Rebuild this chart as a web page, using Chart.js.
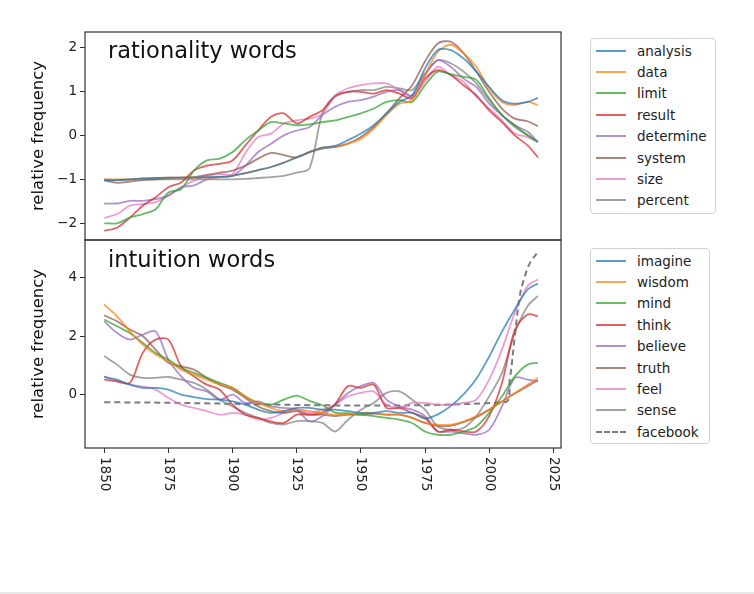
<!DOCTYPE html>
<html><head><meta charset="utf-8">
<script src="https://cdn.jsdelivr.net/npm/chart.js@4.4.1/dist/chart.umd.min.js"></script>
<style>
html,body{margin:0;padding:0;background:#fff;}
#wrap{position:relative;width:754px;height:594px;overflow:hidden;background:#fff;}
#c{position:absolute;left:0;top:0;}
.legend{position:absolute;box-sizing:border-box;border:1px solid #d0d0d0;border-radius:4px;background:#fff;font-family:'DejaVu Sans',sans-serif;font-size:13.5px;color:#222;padding:1px 4px 0 5px;}
.item{display:flex;align-items:center;height:21.4px;white-space:nowrap;}
.sw{width:30px;height:0;border-top:2px solid;margin-right:11px;flex:none;}
#strip{position:absolute;left:0;top:592px;width:754px;height:2px;background:#e8e8e8;}
</style></head>
<body><div id="wrap"><canvas id="c" width="754" height="594"></canvas>
<div id="leg1" class="legend" style="left:590px;top:38px;width:126px;height:176px;"></div>
<div id="leg2" class="legend" style="left:590px;top:248px;width:120px;height:196px;"></div>
<div id="strip"></div></div>
<script>
// ---------- data ----------
const years = [1850,1855,1860,1865,1870,1875,1880,1885,1890,1895,1900,1905,1910,1915,1920,1925,1930,1935,1940,1945,1950,1955,1960,1965,1970,1975,1980,1985,1990,1995,2000,2005,2010,2015,2019];
const xTicks = [1850,1875,1900,1925,1950,1975,2000,2025];
const panelTitles = ['rationality words','intuition words'];
const yLabel = 'relative frequency';

// rationality words
const analysis  = [-1.03,-1.02,-1.0,-0.98,-0.97,-0.96,-0.96,-0.96,-0.95,-0.94,-0.92,-0.86,-0.79,-0.72,-0.62,-0.5,-0.38,-0.28,-0.24,-0.11,0.04,0.23,0.5,0.76,0.91,1.52,1.94,1.94,1.75,1.45,1.1,0.8,0.72,0.76,0.85];
const dataW     = [-1.0,-1.0,-1.0,-0.98,-0.97,-0.96,-0.96,-0.96,-0.96,-0.95,-0.92,-0.86,-0.79,-0.72,-0.62,-0.5,-0.38,-0.28,-0.25,-0.19,-0.08,0.15,0.46,0.72,0.8,1.37,1.9,2.06,1.87,1.56,1.07,0.76,0.69,0.76,0.69];
const limit     = [-2.0,-2.0,-1.87,-1.79,-1.68,-1.3,-1.22,-0.8,-0.57,-0.53,-0.38,-0.11,0.11,0.3,0.27,0.23,0.25,0.3,0.34,0.42,0.5,0.61,0.76,0.8,0.76,1.14,1.45,1.39,1.33,1.26,0.84,0.46,0.23,0.0,-0.15];
const result    = [-2.17,-2.1,-1.87,-1.6,-1.41,-1.18,-1.07,-0.8,-0.69,-0.65,-0.57,-0.23,0.11,0.42,0.5,0.27,0.42,0.57,0.88,0.99,0.99,0.95,1.03,0.95,0.84,1.29,1.48,1.37,1.14,0.91,0.57,0.3,0.0,-0.23,-0.5];
const determine = [-1.55,-1.55,-1.49,-1.49,-1.45,-1.37,-1.18,-1.14,-1.0,-0.95,-0.92,-0.69,-0.38,-0.19,0.0,0.11,0.19,0.46,0.65,0.76,0.8,0.88,0.99,1.03,0.91,1.37,1.71,1.56,1.29,1.1,0.72,0.46,0.23,0.08,-0.15];
const system    = [-1.02,-1.08,-1.05,-1.02,-1.0,-0.98,-0.96,-0.95,-0.9,-0.85,-0.8,-0.69,-0.53,-0.4,-0.45,-0.5,-0.38,-0.3,-0.27,-0.19,-0.04,0.19,0.5,0.84,1.14,1.68,2.09,2.13,1.87,1.45,0.99,0.61,0.38,0.32,0.21];
const size      = [-1.88,-1.79,-1.6,-1.56,-1.52,-1.37,-1.18,-1.03,-0.92,-0.88,-0.88,-0.4,-0.04,0.04,0.27,0.34,0.38,0.49,0.91,1.07,1.14,1.18,1.18,1.03,0.88,1.22,1.56,1.37,1.22,0.88,0.61,0.34,0.04,-0.04,-0.15];
const percent   = [-1.0,-1.02,-1.0,-1.0,-1.0,-1.0,-1.0,-1.0,-1.0,-1.0,-1.0,-0.99,-0.97,-0.95,-0.92,-0.85,-0.75,0.5,0.91,0.99,1.03,1.03,1.1,1.07,1.03,1.41,1.71,1.64,1.45,1.18,0.8,0.46,0.19,0.0,-0.15];

// intuition words
const imagine = [0.61,0.52,0.35,0.24,0.24,0.18,0.01,-0.07,-0.14,-0.16,-0.22,-0.33,-0.5,-0.61,-0.55,-0.44,-0.44,-0.5,-0.5,-0.55,-0.61,-0.61,-0.55,-0.61,-0.61,-0.8,-0.66,-0.38,0.02,0.55,1.3,2.15,2.9,3.58,3.78];
const wisdom  = [3.07,2.67,2.16,1.71,1.37,1.14,0.86,0.69,0.52,0.35,0.24,-0.05,-0.27,-0.44,-0.55,-0.5,-0.55,-0.61,-0.67,-0.67,-0.61,-0.61,-0.67,-0.67,-0.78,-0.95,-1.01,-1.01,-0.9,-0.72,-0.5,-0.22,0.07,0.35,0.58];
const mind    = [2.56,2.33,2.1,1.77,1.43,1.2,0.92,0.75,0.58,0.41,0.24,-0.05,-0.27,-0.33,-0.16,-0.02,-0.2,-0.35,-0.6,-0.62,-0.67,-0.72,-0.78,-0.84,-0.95,-1.24,-1.35,-1.35,-1.24,-1.07,-0.61,-0.05,0.63,1.03,1.09];
const think   = [0.52,0.46,0.41,1.43,1.88,1.88,0.97,0.63,0.35,0.18,-0.33,-0.67,-0.78,-0.9,-0.95,-0.67,-0.67,-0.6,-0.3,0.3,0.24,0.35,-0.44,-0.44,-0.61,-0.78,-1.24,-1.18,-1.24,-1.24,-0.72,0.41,2.2,2.73,2.67];
const believe = [2.5,2.1,1.88,2.05,2.16,1.2,0.63,0.24,0.12,-0.16,0.01,-0.27,-0.22,-0.39,-0.44,-0.5,-0.9,-0.72,-0.33,0.07,0.3,0.41,-0.16,-0.39,-0.5,-0.72,-1.24,-1.24,-1.3,-1.35,-1.18,-0.39,0.58,0.52,0.46];
const truth   = [2.7,2.5,2.22,2.0,1.54,1.09,0.97,0.86,0.58,0.35,0.18,-0.1,-0.39,-0.55,-0.61,-0.55,-0.67,-0.67,-0.72,-0.67,-0.67,-0.63,-0.67,-0.67,-0.78,-0.95,-1.05,-1.05,-0.92,-0.75,-0.5,-0.22,0.05,0.3,0.5];
const feel    = [0.63,0.46,0.35,0.29,0.18,-0.1,-0.33,-0.44,-0.55,-0.67,-0.61,-0.67,-0.84,-0.78,-0.61,-0.5,-0.61,-0.5,-0.33,-0.05,0.07,0.12,-0.33,-0.44,-0.27,-0.27,-0.33,-0.33,-0.27,-0.16,0.52,1.54,2.79,3.7,3.92];
const sense   = [1.32,1.03,0.69,0.58,0.58,0.61,0.52,0.41,0.18,-0.16,-0.39,-0.61,-0.78,-0.95,-1.0,-0.89,-0.89,-0.95,-1.24,-0.84,-0.5,-0.27,0.07,0.12,-0.16,-0.5,-1.07,-1.18,-1.12,-0.72,-0.05,0.75,2.11,3.02,3.36];
const fbYears = [1850,2006,2008,2010,2012,2014,2016,2019];
const facebook = [-0.25,-0.25,0.5,2.0,3.4,4.05,4.5,4.85];

const topNames = ['analysis','data','limit','result','determine','system','size','percent'];
const topSeries = [analysis,dataW,limit,result,determine,system,size,percent];
const botNames = ['imagine','wisdom','mind','think','believe','truth','feel','sense'];
const botSeries = [imagine,wisdom,mind,think,believe,truth,feel,sense];
const palette = ['#1f77b4','#ff7f0e','#2ca02c','#d62728','#9467bd','#8c564b','#e377c2','#7f7f7f'];

// ---------- build ----------
function rgba(hex,a){const n=parseInt(hex.slice(1),16);return `rgba(${n>>16&255},${n>>8&255},${n&255},${a})`;}
const pts = (xs,vs)=>vs.map((v,i)=>({x:xs[i],y:v}));
const datasets = [];
topSeries.forEach((s,i)=>datasets.push({label:topNames[i],data:pts(years,s),yAxisID:'yTop',borderColor:rgba(palette[i],0.72),borderWidth:1.8,pointRadius:0,tension:0.3,fill:false}));
botSeries.forEach((s,i)=>datasets.push({label:botNames[i],data:pts(years,s),yAxisID:'yBot',borderColor:rgba(palette[i],0.72),borderWidth:1.8,pointRadius:0,tension:0.3,fill:false}));
datasets.push({label:'facebook',data:pts(fbYears,facebook),yAxisID:'yBot',borderColor:'rgba(110,110,110,0.9)',borderDash:[6,4],borderWidth:2,pointRadius:0,tension:0.35,fill:false});

function makeLegend(id,names,colors,dashedLast){
  const el=document.getElementById(id);
  names.forEach((n,i)=>{
    const it=document.createElement('div');it.className='item';
    const sw=document.createElement('span');sw.className='sw';
    sw.style.borderTopColor=colors[i];
    if(dashedLast&&i===names.length-1){sw.style.borderTopStyle='dashed';}
    const t=document.createElement('span');t.textContent=n;
    it.appendChild(sw);it.appendChild(t);el.appendChild(it);
  });
}
makeLegend('leg1',topNames,palette.map(c=>rgba(c,0.72)),false);
makeLegend('leg2',botNames.concat(['facebook']),palette.map(c=>rgba(c,0.72)).concat(['rgba(110,110,110,0.9)']),true);

Chart.defaults.font.family = "'DejaVu Sans', sans-serif";
Chart.defaults.color = '#222';

const decor = {
  id:'decor',
  afterDraw(chart){
    const ctx=chart.ctx, ca=chart.chartArea;
    const yT=chart.scales.yTop, yB=chart.scales.yBot, xs=chart.scales.x;
    ctx.save();
    ctx.strokeStyle='#333'; ctx.lineWidth=1.2;
    ctx.strokeRect(ca.left, yT.top, ca.right-ca.left, yT.bottom-yT.top);
    ctx.strokeRect(ca.left, yB.top, ca.right-ca.left, yB.bottom-yB.top);
    ctx.fillStyle='#111'; ctx.font="22.5px 'DejaVu Sans'"; ctx.textBaseline='middle'; ctx.textAlign='left';
    ctx.fillText(panelTitles[0], ca.left+23, yT.top+20);
    ctx.fillText(panelTitles[1], ca.left+23, yB.top+21);
    ctx.font="13.5px 'DejaVu Sans'"; ctx.fillStyle='#222';
    xs.ticks.forEach(t=>{
      const px=xs.getPixelForValue(t.value);
      ctx.save(); ctx.translate(px, xs.top+9); ctx.rotate(Math.PI/2);
      ctx.textAlign='left'; ctx.textBaseline='middle';
      ctx.fillText(String(t.value),0,0); ctx.restore();
    });
    ctx.restore();
  }
};

const yCommon = {
  position:'left', stack:'panels', stackWeight:1,
  border:{display:false},
  grid:{drawOnChartArea:false, drawTicks:true, tickLength:5, color:'#333'},
  ticks:{font:{size:13.5}, padding:3, stepSize:1, includeBounds:false, color:'#222',
         callback:(v)=>String(v).replace('-','\u2212')},
  title:{display:true, text:yLabel, font:{size:16.5}, color:'#111', padding:{top:4,bottom:4}},
  afterFit(s){ s.width = 60; }
};

new Chart(document.getElementById('c'),{
  type:'line',
  data:{datasets},
  plugins:[decor],
  options:{
    responsive:false, animation:false, devicePixelRatio:1,
    layout:{padding:{left:25,right:193,top:32,bottom:0}},
    plugins:{legend:{display:false},tooltip:{enabled:false}},
    scales:{
      x:{type:'linear',position:'bottom',min:1842.5,max:2028,
         border:{display:false},
         grid:{drawOnChartArea:false,drawTicks:true,tickLength:5,color:'#333'},
         ticks:{display:false,stepSize:25,includeBounds:false},
         afterBuildTicks(s){ s.ticks = xTicks.map(v=>({value:v})); },
         afterFit(s){ s.height = 146; }},
      yBot:Object.assign({}, yCommon, {min:-1.8,max:5.26,weight:0,
         ticks:Object.assign({}, yCommon.ticks, {stepSize:2})}),
      yTop:Object.assign({}, yCommon, {min:-2.38,max:2.35,weight:1})
    }
  }
});
</script>
</body></html>
